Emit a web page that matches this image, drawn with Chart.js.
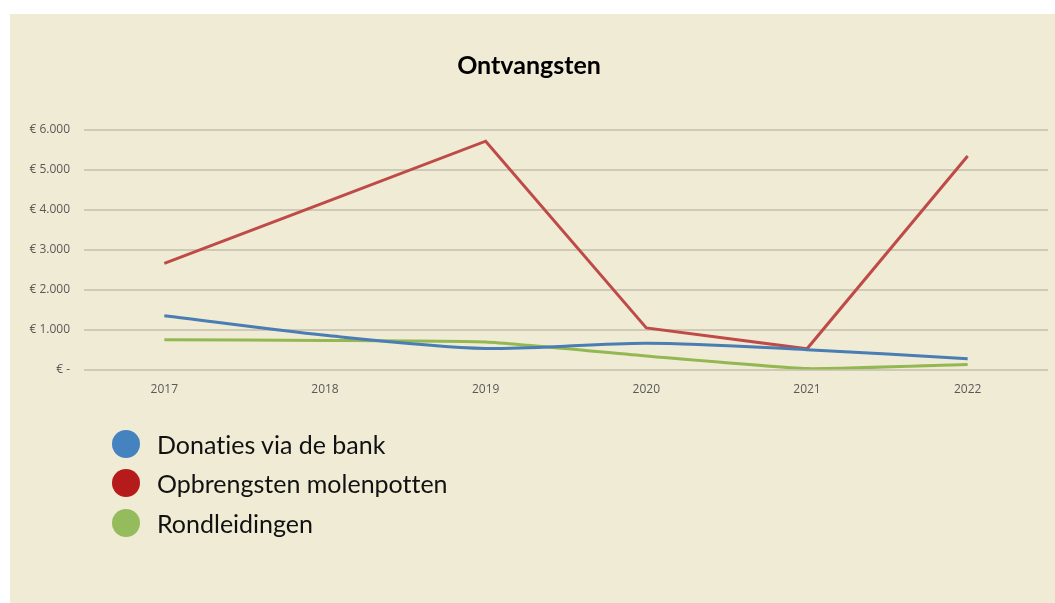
<!DOCTYPE html>
<html>
<head>
<meta charset="utf-8">
<script src="https://cdn.jsdelivr.net/npm/chart.js@4"></script>
<style>
    html, body { margin: 0; padding: 0; background: #ffffff; }
    #frame {
        position: absolute; left: 10px; top: 14px;
        width: 1045px; height: 589px;
        background: #f0ebd5;
    }
    #chart { position: absolute; left: 0; top: 0; }
    #legend {
        position: absolute; left: 102px; top: 410px;
        font-family: Lato, "Noto Sans", sans-serif;
        font-size: 25px; color: #111111;
        font-variant-ligatures: none;
    }
    .row { height: 39.5px; display: flex; align-items: center; }
    .dot { width: 28px; height: 28px; border-radius: 50%; margin-right: 17px; }
</style>
</head>
<body>
<div id="frame">
    <canvas id="chart" width="1045" height="589"></canvas>
    <div id="legend"></div>
</div>
<script>
// --------------------------------------------------
//  DATA
// --------------------------------------------------
const years = ["2017", "2018", "2019", "2020", "2021", "2022"];
const seriesNames = ["Donaties via de bank", "Opbrengsten molenpotten", "Rondleidingen"];
const donaties = [1350, 860, 530, 660, 500, 270];
const molenpotten = [2660, 4190, 5720, 1045, 520, 5350];
const rondleidingen = [750, 730, 690, 340, 25, 125];

const lineColors = ["#4a7db3", "#be4b48", "#93b852"];
const dotColors = ["#4582c0", "#b51b1b", "#95bc5c"];

// --------------------------------------------------
//  CHART
// --------------------------------------------------
const euro = v => v === 0 ? "€ -" : "€ " + v.toLocaleString("nl-NL");

const chart = new Chart(document.getElementById("chart"), {
    type: "line",
    data: {
        labels: years,
        datasets: [
            { label: seriesNames[0], data: donaties, borderColor: lineColors[0], tension: 0.3 },
            { label: seriesNames[1], data: molenpotten, borderColor: lineColors[1], tension: 0 },
            { label: seriesNames[2], data: rondleidingen, borderColor: lineColors[2], tension: 0.15 }
        ].map(d => ({ ...d, borderWidth: 3, pointRadius: 0, fill: false, backgroundColor: d.borderColor }))
    },
    options: {
        responsive: false,
        animation: false,
        layout: { padding: { left: 0, right: 7, top: 0, bottom: 193 } },
        plugins: {
            legend: { display: false },
            tooltip: { enabled: false },
            title: {
                display: true,
                text: "Ontvangsten",
                color: "#000000",
                font: { family: "Lato", size: 25, weight: "bold" },
                padding: { top: 37, bottom: 49 }
            }
        },
        scales: {
            x: {
                offset: true,
                grid: { display: false, drawTicks: false },
                border: { display: false },
                ticks: {
                    padding: 13,
                    color: "#595959",
                    font: { family: "Open Sans", size: 12 }
                }
            },
            y: {
                min: 0,
                max: 6000,
                afterFit: s => { s.width = 74; },
                grid: { color: "#cfcab6", lineWidth: 2, drawTicks: false },
                border: { display: false },
                ticks: {
                    stepSize: 1000,
                    padding: 14,
                    color: "#595959",
                    font: { family: "Open Sans", size: 12 },
                    callback: v => euro(v)
                }
            }
        }
    }
});

// --------------------------------------------------
//  LEGEND (vertical, below the chart)
// --------------------------------------------------
const legend = document.getElementById("legend");
chart.data.datasets.forEach((ds, i) => {
    const row = document.createElement("div");
    row.className = "row";
    const dot = document.createElement("span");
    dot.className = "dot";
    dot.style.background = dotColors[i];
    const txt = document.createElement("span");
    txt.textContent = ds.label;
    row.appendChild(dot);
    row.appendChild(txt);
    legend.appendChild(row);
});
</script>
</body>
</html>
